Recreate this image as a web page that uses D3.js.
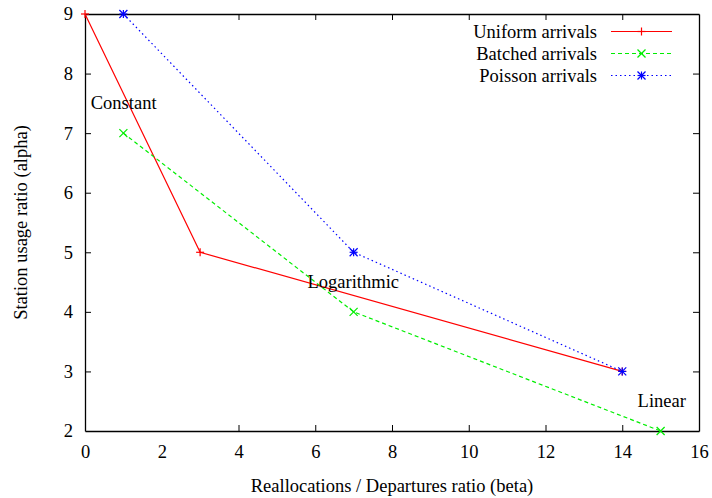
<!DOCTYPE html>
<html>
<head>
<meta charset="utf-8">
<script src="https://cdn.jsdelivr.net/npm/d3@7"></script>
<style>
  body { margin: 0; background: #fff; }
  svg text { font-family: "Liberation Serif", "Times New Roman", Times, "DejaVu Serif", serif; font-size: 18.5px; fill: #000; }
</style>
</head>
<body>
<div id="chart"></div>
<script>
const width = 712, height = 498;
const margin = {top: 14, right: 13, bottom: 67, left: 85};
const innerWidth = width - margin.left - margin.right;
const innerHeight = height - margin.top - margin.bottom;
const fontFamily = "'Liberation Serif', 'Times New Roman', Times, 'DejaVu Serif', serif";

// data
const uniformX = [0, 3, 14];
const uniformY = [9, 5, 3];
const batchedX = [1, 7, 15];
const batchedY = [7, 4, 2];
const poissonX = [1, 7, 14];
const poissonY = [9, 5, 3];
const xTicks = [0, 2, 4, 6, 8, 10, 12, 14, 16];
const yTicks = [2, 3, 4, 5, 6, 7, 8, 9];
const labels = [
  {text: "Constant", x: 0.15, y: 7.5},
  {text: "Logarithmic", x: 5.8, y: 4.5},
  {text: "Linear", x: 14.4, y: 2.5}
];

const series = [
  {name: "Uniform arrivals", xs: uniformX, ys: uniformY, color: "#ff0000", dash: null, marker: "plus"},
  {name: "Batched arrivals", xs: batchedX, ys: batchedY, color: "#00ee00", dash: "4,3", marker: "cross"},
  {name: "Poisson arrivals", xs: poissonX, ys: poissonY, color: "#0000ff", dash: "1.5,3", marker: "star"}
];

const svg = d3.select("#chart")
  .append("svg")
    .attr("width", width)
    .attr("height", height)
    .attr("font-family", fontFamily)
    .attr("font-size", 18.5);

const innerChart = svg.append("g")
  .attr("transform", `translate(${margin.left}, ${margin.top})`);

const xScale = d3.scaleLinear().domain([0, 16]).range([0, innerWidth]);
const yScale = d3.scaleLinear().domain([2, 9]).range([innerHeight, 0]);

// axes, gnuplot style: inward ticks, mirrored
const bottomAxis = d3.axisBottom(xScale).tickValues(xTicks).tickFormat(d3.format("d"))
  .tickSizeInner(-6).tickSizeOuter(0).tickPadding(14);
const topAxis = d3.axisTop(xScale).tickValues(xTicks.slice(1, -1)).tickSizeInner(-6).tickSizeOuter(0);
const leftAxis = d3.axisLeft(yScale).tickValues(yTicks).tickFormat(d3.format("d"))
  .tickSizeInner(-6).tickSizeOuter(0).tickPadding(12);
const rightAxis = d3.axisRight(yScale).tickValues(yTicks.slice(1, -1)).tickSizeInner(-6).tickSizeOuter(0);

const styleAxis = g => {
  g.attr("font-family", fontFamily).attr("font-size", 18.5);
  g.select(".domain").attr("stroke", "#000").attr("stroke-width", 1.3);
  g.selectAll(".tick line").attr("stroke", "#000").attr("stroke-width", 1);
  g.selectAll(".tick text").attr("fill", "#000");
};

innerChart.append("g").attr("transform", `translate(0, ${innerHeight})`).call(bottomAxis).call(styleAxis);
innerChart.append("g").call(topAxis).call(styleAxis).selectAll(".tick text").remove();
innerChart.append("g").call(leftAxis).call(styleAxis);
innerChart.append("g").attr("transform", `translate(${innerWidth}, 0)`).call(rightAxis).call(styleAxis)
  .selectAll(".tick text").remove();

// no tick marks on the frame corners
innerChart.selectAll(".tick line").filter(d => d === 0 || d === 16 || d === 2 || d === 9).remove();

const line = d3.line().x(d => xScale(d[0])).y(d => yScale(d[1]));

const drawMarker = (g, type, cx, cy, color) => {
  const s = 4;
  const segs = [];
  if (type === "plus" || type === "star") {
    segs.push([cx - s, cy, cx + s, cy], [cx, cy - s, cx, cy + s]);
  }
  if (type === "cross" || type === "star") {
    segs.push([cx - s, cy - s, cx + s, cy + s], [cx - s, cy + s, cx + s, cy - s]);
  }
  segs.forEach(sg => {
    g.append("line")
      .attr("x1", sg[0]).attr("y1", sg[1]).attr("x2", sg[2]).attr("y2", sg[3])
      .attr("stroke", color).attr("stroke-width", 1.2);
  });
};

series.forEach(s => {
  const pts = s.xs.map((x, i) => [x, s.ys[i]]);
  innerChart.append("path")
    .datum(pts)
    .attr("d", line)
    .attr("fill", "none")
    .attr("stroke", s.color)
    .attr("stroke-width", 1.2)
    .attr("stroke-dasharray", s.dash);
  pts.forEach(p => drawMarker(innerChart, s.marker, xScale(p[0]), yScale(p[1]), s.color));
});

// in-plot labels
innerChart.selectAll(".note")
  .data(labels)
  .join("text")
    .attr("class", "note")
    .attr("x", d => xScale(d.x))
    .attr("y", d => yScale(d.y))
    .attr("dy", "0.3em")
    .text(d => d.text);

// legend
const legend = innerChart.append("g");
series.forEach((s, i) => {
  const y = 17.5 + i * 22;
  legend.append("text")
    .attr("x", 512)
    .attr("y", y)
    .attr("dy", "0.33em")
    .attr("text-anchor", "end")
    .text(s.name);
  legend.append("line")
    .attr("x1", 526).attr("x2", 587)
    .attr("y1", y).attr("y2", y)
    .attr("stroke", s.color)
    .attr("stroke-width", 1.2)
    .attr("stroke-dasharray", s.dash);
  drawMarker(legend, s.marker, 556.5, y, s.color);
});

// axis titles
svg.append("text")
  .attr("x", margin.left + innerWidth / 2)
  .attr("y", 492)
  .attr("text-anchor", "middle")
  .text("Reallocations / Departures ratio (beta)");

svg.append("text")
  .attr("transform", `translate(27, ${margin.top + innerHeight / 2}) rotate(-90)`)
  .attr("text-anchor", "middle")
  .text("Station usage ratio (alpha)");
</script>
</body>
</html>
